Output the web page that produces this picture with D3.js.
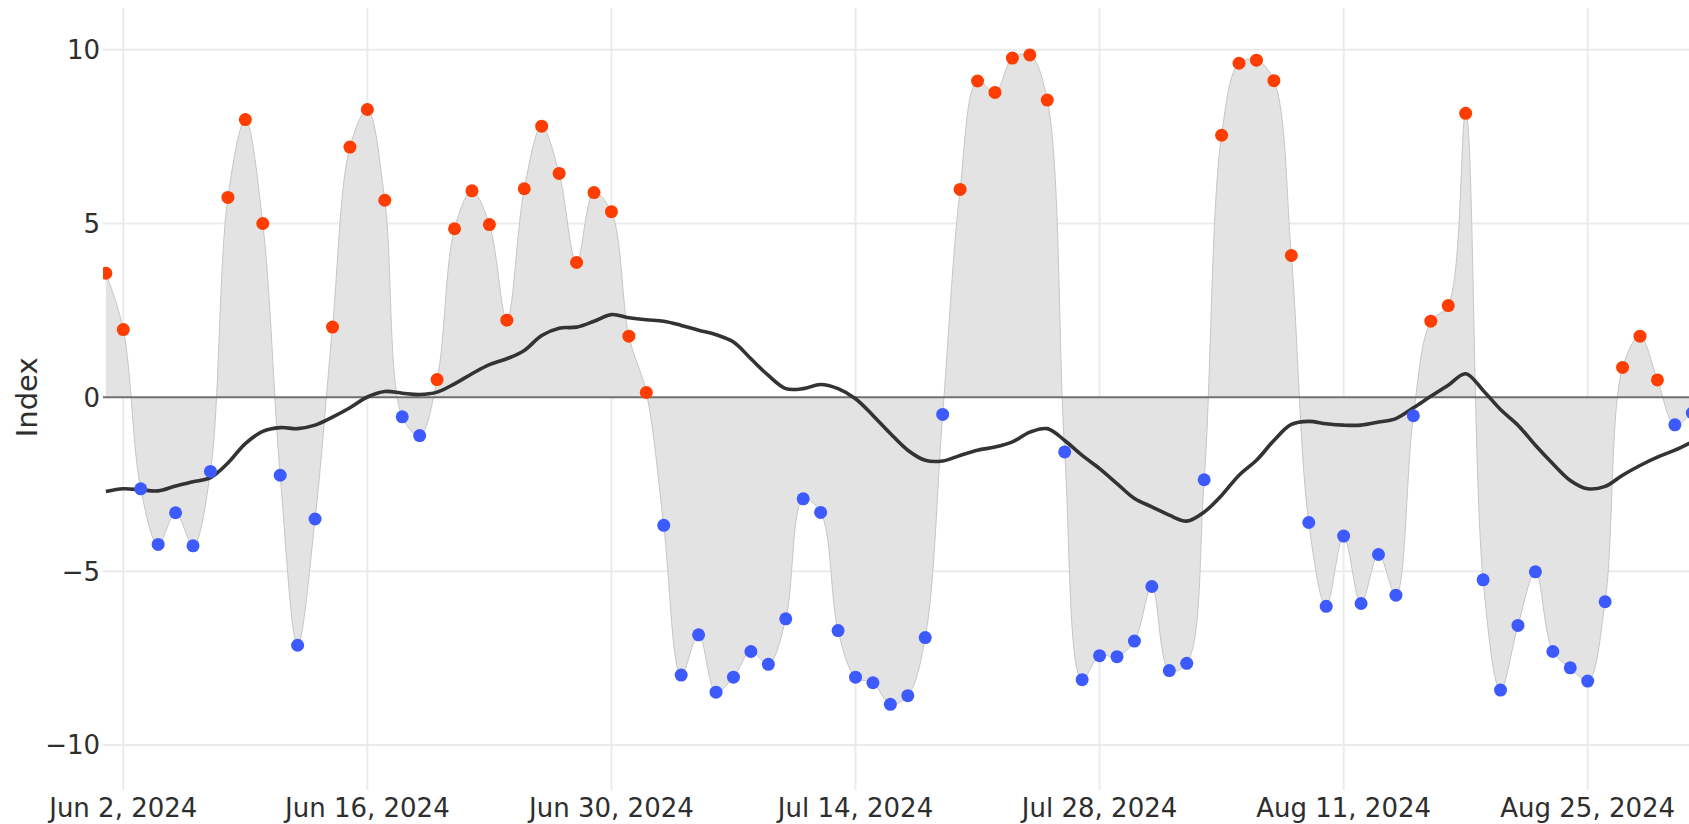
<!DOCTYPE html>
<html>
<head>
<meta charset="utf-8">
<script src="https://d3js.org/d3.v7.min.js"></script>
<style>
  body { margin: 0; background: #fff; }
  svg text { font-family: "DejaVu Sans", Verdana, sans-serif; fill: #2e2e2e; }
  .grid line { stroke: #ebebeb; stroke-width: 2; }
</style>
</head>
<body>
<script>
  // daily index, Jun 1 .. Aug 31 2024
  var startDate = "2024-06-01";
  var indexValues = [
    3.57, 1.95, -2.63, -4.23, -3.32, -4.27, -2.13, 5.75, 7.99, 5.0,
    -2.24, -7.13, -3.5, 2.02, 7.2, 8.28, 5.67, -0.56, -1.10, 0.51,
    4.85, 5.94, 4.97, 2.22, 6.0, 7.80, 6.44, 3.88, 5.89, 5.34,
    1.76, 0.14, -3.68, -7.99, -6.83, -8.48, -8.05, -7.31, -7.68, -6.37,
    -2.92, -3.31, -6.71, -8.05, -8.21, -8.83, -8.58, -6.91, -0.49, 5.98,
    9.10, 8.77, 9.76, 9.85, 8.55, -1.57, -8.12, -7.43, -7.46, -7.01, -5.44,
    -7.86, -7.65, -2.37, 7.54, 9.61, 9.70, 9.11, 4.08, -3.60, -6.01,
    -3.99, -5.93, -4.52, -5.69, -0.53, 2.19, 2.64, 8.17, -5.25, -8.42,
    -6.56, -5.02, -7.31, -7.78, -8.16, -5.88, 0.86, 1.76, 0.50, -0.79, -0.45
  ];
  // smoothed trend (black line)
  var trendValues = [
    -2.71, -2.63, -2.66, -2.69, -2.55, -2.43, -2.31, -1.89, -1.33, -0.98,
    -0.87, -0.90, -0.80, -0.57, -0.30, 0.01, 0.17, 0.12, 0.08, 0.15,
    0.39, 0.68, 0.94, 1.11, 1.35, 1.78, 1.99, 2.02, 2.19, 2.38,
    2.29, 2.23, 2.19, 2.07, 1.93, 1.80, 1.59, 1.11, 0.63, 0.25,
    0.25, 0.37, 0.25, -0.04, -0.52, -1.04, -1.52, -1.81, -1.83, -1.67,
    -1.52, -1.43, -1.28, -1.00, -0.90, -1.24, -1.67, -2.05, -2.48, -2.91, -3.15,
    -3.39, -3.56, -3.30, -2.82, -2.24, -1.81, -1.24, -0.78, -0.69, -0.76,
    -0.80, -0.80, -0.71, -0.61, -0.30, 0.03, 0.35, 0.68, 0.20, -0.35,
    -0.80, -1.38, -1.91, -2.39, -2.63, -2.56, -2.24, -1.96, -1.72, -1.52, -1.28
  ];
  var xTickDates = ["2024-06-02", "2024-06-16", "2024-06-30", "2024-07-14", "2024-07-28", "2024-08-11", "2024-08-25"];
  var yTickValues = [-10, -5, 0, 5, 10];

  var width = 1689, height = 824;
  var plotLeft = 103, plotRight = 1689, plotTop = 8, plotBottom = 790;

  var parse = d3.utcParse("%Y-%m-%d");
  var start = parse(startDate);
  var dates = d3.utcDay.range(start, d3.utcDay.offset(start, indexValues.length));
  var data = dates.map(function(d, i) {
    return { date: d, value: indexValues[i], trend: trendValues[i] };
  });

  var x = d3.scaleUtc()
    .domain([parse("2024-06-02"), parse("2024-08-25")])
    .range([123.3, 1587.7]);
  var y = d3.scaleLinear()
    .domain([-10, 10])
    .range([745, 49.7]);

  var svg = d3.select("body").append("svg")
    .attr("width", width)
    .attr("height", height);

  svg.append("clipPath").attr("id", "plot")
    .append("rect")
    .attr("x", plotLeft).attr("y", plotTop)
    .attr("width", plotRight - plotLeft).attr("height", plotBottom - plotTop);

  // grid
  var grid = svg.append("g").attr("class", "grid");
  grid.selectAll(".gx").data(xTickDates).enter().append("line")
    .attr("x1", function(d) { return x(parse(d)); })
    .attr("x2", function(d) { return x(parse(d)); })
    .attr("y1", plotTop).attr("y2", plotBottom);
  grid.selectAll(".gy").data(yTickValues.filter(function(v) { return v != 0; })).enter().append("line")
    .attr("x1", plotLeft).attr("x2", plotRight)
    .attr("y1", function(d) { return y(d); })
    .attr("y2", function(d) { return y(d); });

  var plot = svg.append("g").attr("clip-path", "url(#plot)");

  var area = d3.area()
    .x(function(d) { return x(d.date); })
    .y0(y(0))
    .y1(function(d) { return y(d.value); })
    .curve(d3.curveCatmullRom);

  plot.append("path")
    .datum(data)
    .attr("d", area)
    .attr("fill", "#e3e3e3");

  plot.append("path")
    .datum(data)
    .attr("d", area.lineY1())
    .attr("fill", "none")
    .attr("stroke", "#c6c6c6")
    .attr("stroke-width", 1);

  // zero line
  plot.append("line")
    .attr("x1", plotLeft).attr("x2", plotRight)
    .attr("y1", y(0)).attr("y2", y(0))
    .attr("stroke", "#707070")
    .attr("stroke-width", 2);

  var trendLine = d3.line()
    .x(function(d) { return x(d.date); })
    .y(function(d) { return y(d.trend); })
    .curve(d3.curveCatmullRom);

  plot.append("path")
    .datum(data)
    .attr("d", trendLine)
    .attr("fill", "none")
    .attr("stroke", "#333")
    .attr("stroke-width", 3.6);

  plot.selectAll("circle")
    .data(data)
    .enter()
    .append("circle")
    .attr("cx", function(d) { return x(d.date); })
    .attr("cy", function(d) { return y(d.value); })
    .attr("r", 6.5)
    .attr("fill", function(d) { return d.value >= 0 ? "#ff3d00" : "#3d5afe"; });

  // axes labels
  var fmt = d3.utcFormat("%b %-d, %Y");
  svg.selectAll(".xt").data(xTickDates).enter().append("text")
    .attr("x", function(d) { return x(parse(d)); })
    .attr("y", 817)
    .attr("text-anchor", "middle")
    .style("font-size", "26px")
    .text(function(d) { return fmt(parse(d)); });

  svg.selectAll(".yt").data(yTickValues).enter().append("text")
    .attr("x", 100)
    .attr("y", function(d) { return y(d); })
    .attr("dy", "0.36em")
    .attr("text-anchor", "end")
    .style("font-size", "26px")
    .text(function(d) { return d < 0 ? "\u2212" + Math.abs(d) : d; });

  svg.append("text")
    .attr("transform", "translate(36.5," + y(0) + ") rotate(-90)")
    .attr("text-anchor", "middle")
    .style("font-size", "29px")
    .text("Index");
</script>
</body>
</html>
